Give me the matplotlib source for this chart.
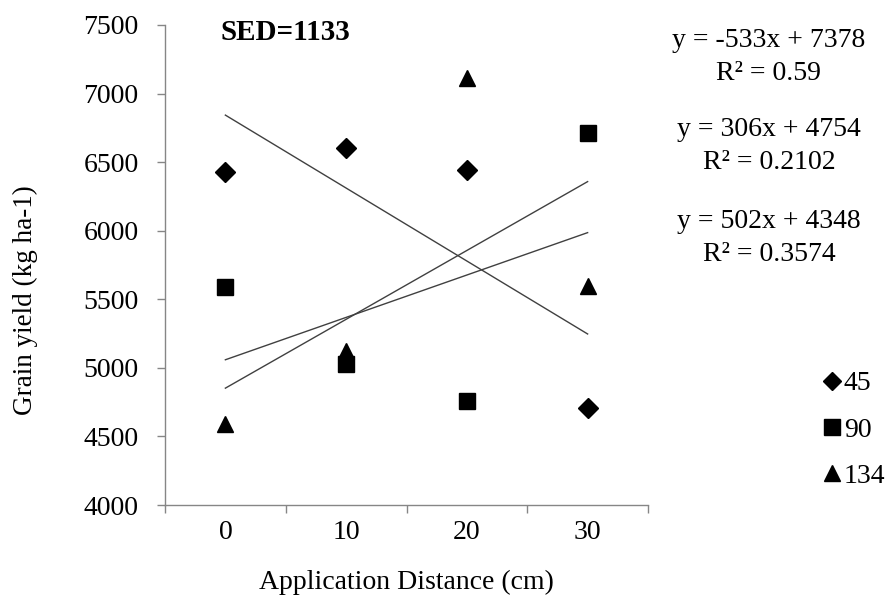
import numpy as np
import matplotlib.pyplot as plt

plt.rcParams['font.family'] = ['Liberation Serif', 'DejaVu Serif']

distances = ['0', '10', '20', '30']
yield_45 = [6430, 6600, 6440, 4710]
yield_90 = [5590, 5030, 4760, 6710]
yield_134 = [4590, 5120, 7110, 5600]
series_labels = ['45', '90', '134']
equations = ['y = -533x + 7378\nR² = 0.59',
             'y = 306x + 4754\nR² = 0.2102',
             'y = 502x + 4348\nR² = 0.3574']

fig = plt.figure(figsize=(8.93, 6.01), dpi=100)
ax = fig.add_axes([165 / 893, 1 - 505 / 601, (648 - 165) / 893, (505 - 25) / 601])

pos = np.arange(1, len(distances) + 1)
markers = ['D', 's', '^']
sizes = [10, 12, 12]
for vals, m, ms, lab in zip([yield_45, yield_90, yield_134], markers, sizes, series_labels):
    ax.plot(pos, vals, linestyle='none', marker=m, ms=ms, color='black', label=lab)
    k, b = np.polyfit(pos, vals, 1)
    ax.plot(pos, k * pos + b, color='#404040', lw=1)

ax.set_xlim(0.5, 4.5)
ax.set_ylim(4000, 7500)
ax.set_yticks(np.arange(4000, 7501, 500))
ax.set_xticks(pos)
ax.set_xticklabels(distances)
ax.set_xticks(np.arange(0.5, 4.6, 1), minor=True)
ax.tick_params(axis='x', which='major', length=0, pad=11, labelsize=20)
ax.tick_params(axis='x', which='minor', length=6, color='#868686', width=1)
ax.tick_params(axis='y', length=6, color='#868686', width=1, labelsize=20, pad=13)
for s in ['top', 'right']:
    ax.spines[s].set_visible(False)
for s in ['left', 'bottom']:
    ax.spines[s].set_color('#868686')
    ax.spines[s].set_linewidth(1)

ax.set_xlabel('Application Distance (cm)', fontsize=20, labelpad=18)
ax.set_ylabel('Grain yield (kg ha-1)', fontsize=19.5, va='center')
ax.yaxis.set_label_coords((25 - 165) / 483, (505 - 300) / 480)

fig.text(285 / 893, 1 - 32 / 601, 'SED=1133', fontsize=21, fontweight='bold',
         ha='center', va='center')

for txt, yc in zip(equations, [57, 146, 238]):
    fig.text(769 / 893, 1 - yc / 601, txt, fontsize=20, ha='center', va='center',
             linespacing=1.45)

ax.legend(loc='center left', bbox_to_anchor=(809 / 893, 1 - 430 / 601),
          bbox_transform=fig.transFigure, frameon=False, fontsize=20,
          handlelength=0.65, handletextpad=0.1, labelspacing=0.75, borderpad=0,
          markerscale=0.95)

fig.savefig('out.png', dpi=100)
